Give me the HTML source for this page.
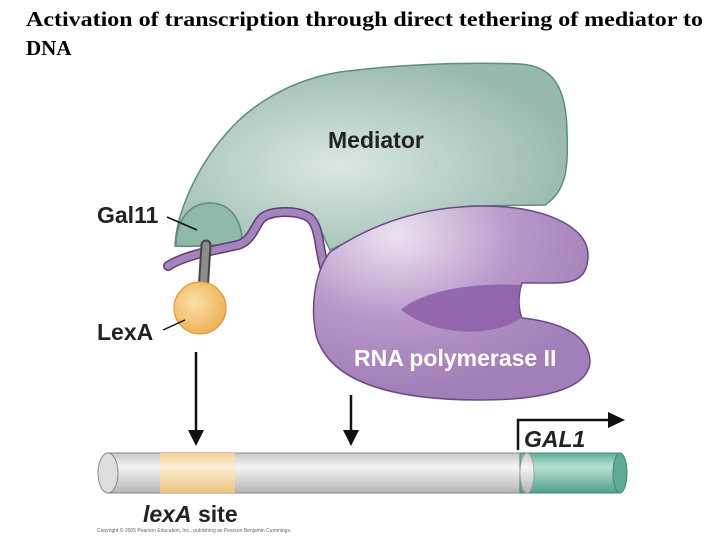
<!DOCTYPE html>
<html><head><style>
body{margin:0;background:#fff;width:720px;height:540px;overflow:hidden}
</style></head><body>
<svg width="720" height="540" style="position:absolute;left:0;top:0" font-family="Liberation Sans, sans-serif">
<defs>
<radialGradient id="med" cx="0.42" cy="0.55" r="0.6"><stop offset="0" stop-color="#dae7e3"/><stop offset="1" stop-color="#98b9ae"/></radialGradient>
<radialGradient id="pol" cx="0.3" cy="0.15" r="0.8"><stop offset="0" stop-color="#ece2f1"/><stop offset="0.55" stop-color="#b796c9"/><stop offset="1" stop-color="#a27fb8"/></radialGradient>
<radialGradient id="lex" cx="0.4" cy="0.4" r="0.6"><stop offset="0" stop-color="#fbe0a8"/><stop offset="1" stop-color="#eeb45a"/></radialGradient>
<linearGradient id="cyl" x1="0" y1="0" x2="0" y2="1"><stop offset="0" stop-color="#c8c8c8"/><stop offset="0.35" stop-color="#f4f4f4"/><stop offset="1" stop-color="#b5b5b5"/></linearGradient>
<linearGradient id="cylO" x1="0" y1="0" x2="0" y2="1"><stop offset="0" stop-color="#f3cf90"/><stop offset="0.35" stop-color="#fdf0d6"/><stop offset="1" stop-color="#ebc27f"/></linearGradient>
<linearGradient id="cylT" x1="0" y1="0" x2="0" y2="1"><stop offset="0" stop-color="#5fb09a"/><stop offset="0.35" stop-color="#b8e0d4"/><stop offset="1" stop-color="#4f9f88"/></linearGradient>
</defs>
<text font-family="Liberation Serif, serif" font-weight="bold" font-size="21" x="26" y="26" textLength="677" lengthAdjust="spacingAndGlyphs">Activation of transcription through direct tethering of mediator to</text>
<text font-family="Liberation Serif, serif" font-weight="bold" font-size="21" x="26" y="55">DNA</text>
<!-- mediator -->
<path d="M175,246 C176,215 195,170 225,135 C250,105 290,80 340,72 C400,64 470,62 520,64 C555,66 566,90 567,130 C568,165 568,190 545,205 L470,206 C420,215 370,230 330,250 C322,235 318,215 300,212 C280,208 265,212 255,228 C248,240 240,243 225,244 C205,246 188,247 175,246 Z" fill="url(#med)" stroke="#5f8c80" stroke-width="1.5"/>
<path d="M176,246 C176,222 188,203 210,203 C232,203 242,222 242,242 C225,245 195,247 176,246 Z" fill="#8fb8a9" stroke="#5f8c80" stroke-width="1.5"/>
<!-- tail -->
<path d="M168,266 C185,255 215,250 238,245 C252,241 255,225 262,218 C272,210 298,210 310,218 C320,228 318,245 325,270" fill="none" stroke="#5d3f76" stroke-width="10" stroke-linecap="round"/>
<path d="M168,266 C185,255 215,250 238,245 C252,241 255,225 262,218 C272,210 298,210 310,218 C320,228 318,245 325,270" fill="none" stroke="#a583bd" stroke-width="7" stroke-linecap="round"/>
<!-- RNA pol -->
<path d="M330,252 C370,225 420,207 480,206 C540,205 588,225 588,255 C588,278 575,283 555,283 L522,283 C518,295 518,308 522,318 C560,322 590,335 590,362 C588,390 540,400 480,400 C400,400 330,385 316,335 C310,305 315,272 330,252 Z" fill="url(#pol)" stroke="#6b4a85" stroke-width="1.5"/>
<path d="M401,310 C420,292 470,282 521,285 C518,296 518,308 521,318 C500,335 440,340 401,310 Z" fill="#8e62a8" opacity="0.9"/>
<!-- stalk + lexA -->
<line x1="206" y1="245" x2="203" y2="292" stroke="#444" stroke-width="11" stroke-linecap="round"/>
<line x1="206" y1="245" x2="203" y2="292" stroke="#8c8c8c" stroke-width="7" stroke-linecap="round"/>
<circle cx="200" cy="308" r="26" fill="url(#lex)" stroke="#d99a3c" stroke-width="1.2"/>
<!-- labels -->
<text x="328" y="148" font-size="23" font-weight="bold" fill="#222">Mediator</text>
<text x="97" y="223" font-size="23" font-weight="bold" fill="#222">Gal11</text>
<line x1="167" y1="217" x2="197" y2="230" stroke="#111" stroke-width="1.5"/>
<text x="97" y="340" font-size="23" font-weight="bold" fill="#222">LexA</text>
<line x1="163" y1="330" x2="185" y2="320" stroke="#111" stroke-width="1.5"/>
<text x="354" y="366" font-size="23" font-weight="bold" fill="#fff">RNA polymerase II</text>
<!-- arrows -->
<line x1="196" y1="352" x2="196" y2="432" stroke="#111" stroke-width="2.5"/>
<path d="M188,430 L204,430 L196,446 Z" fill="#111"/>
<line x1="351" y1="395" x2="351" y2="432" stroke="#111" stroke-width="2.5"/>
<path d="M343,430 L359,430 L351,446 Z" fill="#111"/>
<path d="M518,450 L518,420 L612,420" fill="none" stroke="#111" stroke-width="2.5"/>
<path d="M608,412 L625,420 L608,428 Z" fill="#111"/>
<text x="524" y="447" font-size="23" font-weight="bold" font-style="italic" fill="#222">GAL1</text>
<!-- DNA -->
<rect x="108" y="453" width="420" height="40" fill="url(#cyl)" stroke="#888" stroke-width="1"/>
<rect x="160" y="453" width="75" height="40" fill="url(#cylO)"/>
<rect x="520" y="453" width="100" height="40" fill="url(#cylT)" stroke="#3f8a75" stroke-width="1"/>
<ellipse cx="620" cy="473" rx="7" ry="20" fill="#5faa94" stroke="#3f8a75"/>
<ellipse cx="527" cy="473" rx="7" ry="20" fill="url(#cyl)" stroke="#999" stroke-width="0.8"/>
<ellipse cx="108" cy="473" rx="10" ry="20" fill="#ddd" stroke="#888"/>
<text x="143" y="522" font-size="23" font-weight="bold" fill="#222"><tspan font-style="italic">lexA</tspan> site</text>
<text x="97" y="532" font-size="5" fill="#666">Copyright © 2005 Pearson Education, Inc., publishing as Pearson Benjamin Cummings.</text>
</svg>
</body></html>
